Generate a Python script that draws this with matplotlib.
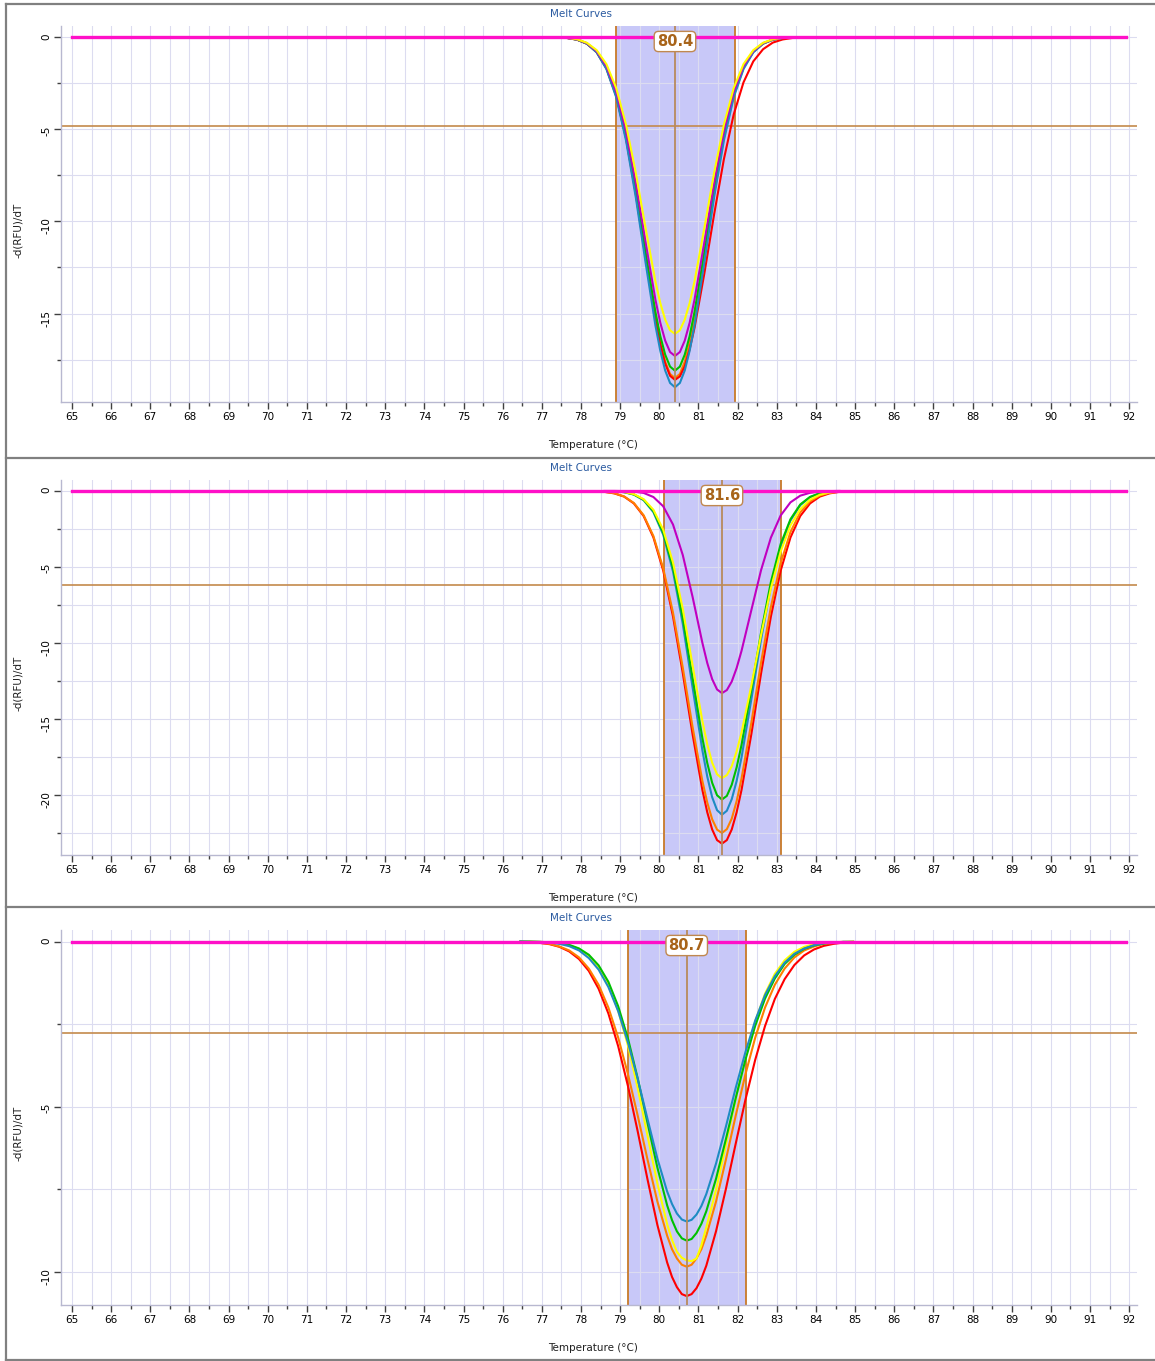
import matplotlib
matplotlib.use("Agg")  # no display
import matplotlib.pyplot as plt
import matplotlib.ticker as ticker
import matplotlib.transforms as transforms
from matplotlib.lines import Line2D

plt.rcParams["axes.unicode_minus"] = False

# ---- panel 1: melt peak 80.4 ----
temps_1 = [77.4, 77.65, 77.9, 78.15, 78.4, 78.65, 78.9, 79.15, 79.4, 79.65, 79.9, 80.025, 80.15, 80.275,
           80.4, 80.525, 80.65, 80.775, 80.9, 81.15, 81.4, 81.65, 81.9, 82.15, 82.4, 82.65, 82.9, 83.15, 83.4]
yellow_1 = [-0.01, -0.04, -0.12, -0.31, -0.71, -1.47, -2.77, -4.75, -7.37, -10.37, -13.25, -14.43, -15.33, -15.91,
            -16.1, -15.91, -15.33, -14.43, -13.25, -10.37, -7.37, -4.75, -2.77, -1.47, -0.71, -0.31, -0.12, -0.04, -0.01]
magenta_1 = [-0.02, -0.05, -0.13, -0.33, -0.76, -1.58, -2.98, -5.10, -7.92, -11.14, -14.24, -15.50, -16.47, -17.09,
             -17.3, -17.09, -16.47, -15.50, -14.24, -11.14, -7.92, -5.10, -2.98, -1.58, -0.76, -0.33, -0.13, -0.05, -0.02]
green_1 = [-0.02, -0.05, -0.14, -0.35, -0.79, -1.65, -3.11, -5.34, -8.29, -11.66, -14.90, -16.22, -17.23, -17.88,
           -18.1, -17.88, -17.23, -16.22, -14.90, -11.66, -8.29, -5.34, -3.11, -1.65, -0.79, -0.35, -0.14, -0.05, -0.02]
orange_1 = [-0.02, -0.05, -0.14, -0.36, -0.81, -1.69, -3.18, -5.46, -8.47, -11.91, -15.23, -16.58, -17.61, -18.28,
            -18.5, -18.28, -17.61, -16.58, -15.23, -11.91, -8.47, -5.46, -3.18, -1.69, -0.81, -0.36, -0.14, -0.05, -0.02]
red_1 = [-0.02, -0.05, -0.14, -0.36, -0.82, -1.70, -3.20, -5.49, -8.52, -11.98, -15.31, -16.67, -17.71, -18.38,
         -18.6, -18.41, -17.86, -16.94, -15.77, -12.83, -9.62, -6.62, -4.20, -2.46, -1.32, -0.66, -0.30, -0.13, -0.05]
blue_1 = [-0.02, -0.05, -0.14, -0.36, -0.83, -1.74, -3.27, -5.61, -8.70, -12.24, -15.64, -17.02, -18.09, -18.77,
          -19.0, -18.77, -18.09, -17.02, -15.64, -12.24, -8.70, -5.61, -3.27, -1.74, -0.83, -0.36, -0.14, -0.05, -0.02]

# ---- panel 2: melt peak 81.6 ----
temps_2 = [78.6, 78.85, 79.1, 79.35, 79.6, 79.85, 80.1, 80.35, 80.6, 80.85, 81.1, 81.225, 81.35, 81.475,
           81.6, 81.725, 81.85, 81.975, 82.1, 82.35, 82.6, 82.85, 83.1, 83.35, 83.6, 83.85, 84.1, 84.35, 84.6]
magenta_2 = [0.0, 0.0, -0.01, -0.04, -0.13, -0.40, -1.01, -2.21, -4.22, -6.97, -9.99, -11.32, -12.38, -13.06,
             -13.3, -13.10, -12.54, -11.65, -10.52, -7.85, -5.20, -3.07, -1.61, -0.75, -0.31, -0.12, -0.04, -0.01, 0.0]
yellow_2 = [-0.01, -0.02, -0.07, -0.21, -0.54, -1.24, -2.55, -4.71, -7.77, -11.47, -15.14, -16.67, -17.88, -18.64,
            -18.9, -18.69, -18.11, -17.14, -15.89, -12.81, -9.47, -6.41, -3.99, -2.27, -1.19, -0.57, -0.25, -0.10, -0.04]
green_2 = [-0.01, -0.02, -0.08, -0.23, -0.58, -1.33, -2.74, -5.05, -8.34, -12.32, -16.26, -17.90, -19.20, -20.02,
           -20.3, -20.06, -19.33, -18.19, -16.71, -13.07, -9.30, -5.99, -3.49, -1.86, -0.89, -0.39, -0.15, -0.05, -0.02]
blue_2 = [-0.01, -0.03, -0.08, -0.24, -0.61, -1.40, -2.88, -5.30, -8.75, -12.93, -17.06, -18.79, -20.15, -21.00,
          -21.3, -21.04, -20.28, -19.08, -17.53, -13.72, -9.76, -6.28, -3.66, -1.95, -0.94, -0.41, -0.16, -0.06, -0.02]
orange_2 = [-0.06, -0.15, -0.36, -0.79, -1.60, -2.97, -5.09, -8.01, -11.63, -15.53, -19.08, -20.50, -21.60, -22.28,
            -22.5, -22.25, -21.56, -20.41, -18.92, -15.26, -11.27, -7.63, -4.75, -2.70, -1.41, -0.68, -0.30, -0.12, -0.05]
red_2 = [-0.06, -0.16, -0.37, -0.82, -1.65, -3.06, -5.24, -8.26, -11.99, -16.01, -19.67, -21.14, -22.27, -22.97,
         -23.2, -22.97, -22.27, -21.14, -19.67, -16.01, -11.99, -8.26, -5.24, -3.06, -1.65, -0.82, -0.37, -0.16, -0.06]

# ---- panel 3: melt peak 80.7 ----
temps_3 = [76.45, 76.7, 76.95, 77.2, 77.45, 77.7, 77.95, 78.2, 78.45, 78.7, 78.95, 79.2, 79.45, 79.7,
           79.95, 80.2, 80.325, 80.45, 80.575, 80.7, 80.825, 80.95, 81.075, 81.2, 81.45, 81.7, 81.95, 82.2,
           82.45, 82.7, 82.95, 83.2, 83.45, 83.7, 83.95, 84.2, 84.45, 84.7, 84.95]
red_3 = [-0.01, -0.02, -0.04, -0.08, -0.16, -0.30, -0.53, -0.89, -1.43, -2.18, -3.17, -4.38, -5.76, -7.21,
         -8.58, -9.72, -10.16, -10.47, -10.68, -10.74, -10.68, -10.50, -10.21, -9.82, -8.77, -7.50, -6.13, -4.79,
         -3.58, -2.56, -1.74, -1.14, -0.71, -0.42, -0.24, -0.13, -0.07, -0.03, -0.02]
orange_3 = [-0.01, -0.02, -0.04, -0.07, -0.15, -0.27, -0.48, -0.82, -1.31, -2.00, -2.91, -4.02, -5.28, -6.61,
            -7.87, -8.91, -9.32, -9.60, -9.79, -9.85, -9.79, -9.60, -9.32, -8.91, -7.87, -6.61, -5.28, -4.02,
            -2.91, -2.00, -1.31, -0.82, -0.48, -0.27, -0.15, -0.07, -0.04, -0.02, -0.01]
yellow_3 = [0.0, 0.0, -0.01, -0.02, -0.05, -0.11, -0.22, -0.43, -0.77, -1.31, -2.10, -3.15, -4.44, -5.89,
            -7.32, -8.56, -9.04, -9.40, -9.58, -9.66, -9.68, -9.60, -9.20, -8.66, -7.52, -6.16, -4.77, -3.50,
            -2.42, -1.58, -0.98, -0.57, -0.31, -0.16, -0.08, -0.04, -0.02, -0.01, 0.0]
green_3 = [0.0, 0.0, -0.01, -0.02, -0.05, -0.10, -0.21, -0.40, -0.72, -1.22, -1.96, -2.94, -4.15, -5.50,
           -6.84, -7.99, -8.44, -8.78, -8.99, -9.06, -9.01, -8.83, -8.55, -8.17, -7.18, -5.99, -4.75, -3.58,
           -2.55, -1.73, -1.12, -0.68, -0.40, -0.22, -0.12, -0.06, -0.03, -0.01, -0.01]
blue_3 = [0.0, -0.01, -0.01, -0.03, -0.07, -0.14, -0.27, -0.50, -0.85, -1.38, -2.11, -3.06, -4.17, -5.38,
          -6.57, -7.57, -7.95, -8.24, -8.42, -8.48, -8.43, -8.27, -8.01, -7.65, -6.72, -5.61, -4.44, -3.35,
          -2.39, -1.62, -1.05, -0.64, -0.37, -0.21, -0.11, -0.05, -0.03, -0.01, -0.01]

# flat wells (no product) at zero
baseline_temps = [65.0, 91.92]
baseline_values = [0.0, 0.0]

peaks = [80.4, 81.6, 80.7]
band_low = [78.9, 80.12, 79.2]
band_high = [81.93, 83.11, 82.22]
thresholds = [-4.85, -6.18, -2.78]

COLORS = {
    "yellow": "#ffff00",
    "magenta": "#c000c0",
    "green": "#00c000",
    "orange": "#ff8000",
    "red": "#ff0000",
    "blue": "#1e8bc3",
}

panels = [
    dict(temps=temps_1, curves=[("orange", orange_1), ("red", red_1), ("green", green_1),
                                ("blue", blue_1), ("magenta", magenta_1), ("yellow", yellow_1)],
         box=(26, 402), ylim=(-19.8, 0.6)),
    dict(temps=temps_2, curves=[("red", red_2), ("orange", orange_2), ("blue", blue_2),
                                ("green", green_2), ("yellow", yellow_2), ("magenta", magenta_2)],
         box=(480, 855), ylim=(-23.95, 0.72)),
    dict(temps=temps_3, curves=[("red", red_3), ("orange", orange_3), ("yellow", yellow_3),
                                ("green", green_3), ("blue", blue_3)],
         box=(930, 1305), ylim=(-11.01, 0.35)),
]

W, H = 1155, 1361
AX_LEFT, AX_RIGHT = 61, 1137

fig = plt.figure(figsize=(W / 100, H / 100), dpi=100)
fig.patch.set_facecolor("white")


def fx(px):
    return px / W


def fy(py):
    return 1 - py / H


for i, panel in enumerate(panels):
    top, bottom = panel["box"]
    ax = fig.add_axes([fx(AX_LEFT), fy(bottom), (AX_RIGHT - AX_LEFT) / W, (bottom - top) / H])
    ax.set_xlim(64.72, 92.2)
    ax.set_ylim(*panel["ylim"])

    # melt peak region
    ax.axvspan(band_low[i], band_high[i], color="#c8c8f8", lw=0, zorder=0.2)
    ax.set_axisbelow(True)
    ax.grid(True, which="both", color="#dcdcf0", lw=0.8)

    ax.axhline(thresholds[i], color="#c48a4c", lw=1.2, zorder=2)
    ax.axvline(band_low[i], color="#c87a28", lw=1.3, zorder=2)
    ax.axvline(band_high[i], color="#c87a28", lw=1.3, zorder=2)

    for name, values in panel["curves"]:
        ax.plot(panel["temps"], values, color=COLORS[name], lw=1.5, zorder=3,
                solid_joinstyle="round")

    ax.axvline(peaks[i], color="#b88a5c", lw=1.3, zorder=4)
    ax.plot(baseline_temps, baseline_values, color="#ff10c8", lw=2.4, zorder=5)

    trans = transforms.blended_transform_factory(ax.transData, ax.transAxes)
    ax.text(peaks[i], 1 - 15.5 / (bottom - top), f"{peaks[i]:.1f}", transform=trans,
            ha="center", va="center", fontsize=10.5, color="#a8641a", zorder=6,
            fontweight="semibold",
            bbox=dict(boxstyle="round,pad=0.18,rounding_size=0.3", fc="white", ec="#c08850", lw=1))

    # axis decorating
    ax.xaxis.set_major_locator(ticker.MultipleLocator(1))
    ax.xaxis.set_minor_locator(ticker.MultipleLocator(0.5))
    ax.yaxis.set_major_locator(ticker.MultipleLocator(5))
    ax.yaxis.set_minor_locator(ticker.MultipleLocator(2.5))
    ax.yaxis.set_major_formatter(ticker.FormatStrFormatter("%d"))
    ax.tick_params(which="major", length=5, width=1, color="#404040", labelsize=7.5, pad=2)
    ax.tick_params(which="minor", length=3, width=1, color="#404040")
    ax.tick_params(axis="y", labelrotation=90)
    for side in ("top", "right"):
        ax.spines[side].set_visible(False)
    for side in ("left", "bottom"):
        ax.spines[side].set_color("#b8b8d0")
        ax.spines[side].set_linewidth(1)

    fig.text(fx(581), fy(top - 12), "Melt Curves", ha="center", va="center",
             fontsize=7.5, color="#2a5aa0")
    fig.text(fx(593), fy(bottom + 43), "Temperature (°C)", ha="center", va="center",
             fontsize=7.5, color="#202020")
    fig.text(fx(18), fy((top + bottom) / 2 + 16), "-d(RFU)/dT", ha="center", va="center",
             rotation=90, fontsize=7.5, color="#202020")

# window frame and separators
frame = dict(color="#808080", lw=1.6, transform=fig.transFigure)
fig.add_artist(Line2D([fx(6), fx(6)], [fy(4), fy(1361)], **frame))
for py in (4, 458, 907, 1360):
    fig.add_artist(Line2D([fx(6), 1], [fy(py), fy(py)], **frame))

fig.savefig("out.png", dpi=100)
plt.close(fig)
